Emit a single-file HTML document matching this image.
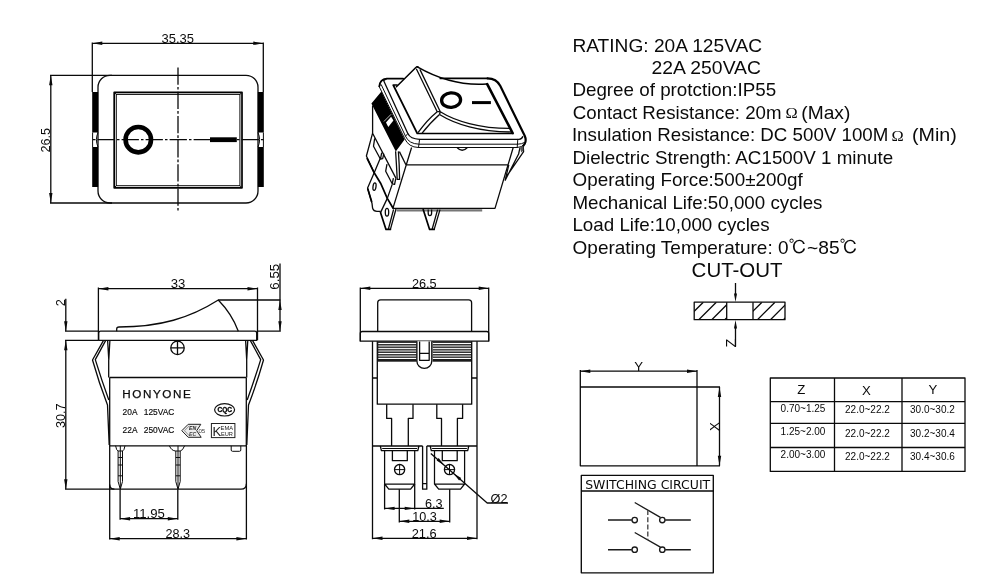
<!DOCTYPE html>
<html lang="en">
<head>
<meta charset="utf-8">
<title>Rocker switch drawing</title>
<style>
html,body{margin:0;padding:0;background:#fff;}
body{width:990px;height:588px;overflow:hidden;}
svg{display:block;will-change:transform;}
.l{fill:none;stroke:#0a0a0a;stroke-width:1.3;stroke-linecap:butt;stroke-linejoin:round;}
.t{fill:none;stroke:#0a0a0a;stroke-width:1;}
.k{fill:none;stroke:#000;stroke-width:1.7;stroke-linejoin:round;}
.b{fill:#000;stroke:none;}
.w{fill:#fff;stroke:none;}
.a{fill:#0a0a0a;stroke:none;}
text{font-family:"Liberation Sans",sans-serif;fill:#0a0a0a;}
.d{font-size:12.7px;}
.s{font-size:17.7px;}
.tb{font-size:10px;}
.th{font-size:13.2px;}
</style>
</head>
<body>
<svg width="990" height="588" viewBox="0 0 990 588">
<rect x="0" y="0" width="990" height="588" fill="#fff"/>

<!-- ================= TOP VIEW ================= -->
<g id="topview">
<!-- dimension 35.35 -->
<path class="l" d="M92.3,42.5V92 M263.3,42.5V92 M92.3,43.3H263.3"/>
<path class="a" d="M92.3,43.3l10,-1.7v3.4z M263.3,43.3l-10,-1.7v3.4z"/>
<text class="d" x="177.8" y="42.6" text-anchor="middle" textLength="32.5" lengthAdjust="spacingAndGlyphs">35.35</text>
<!-- dimension 26.5 -->
<path class="l" d="M50,75.3H112 M50,203H112 M50.8,75.3V203"/>
<path class="a" d="M50.8,75.3l-1.7,10h3.4z M50.8,203l-1.7,-10h3.4z"/>
<text class="d" transform="translate(49.6,140.2) rotate(-90)" text-anchor="middle" textLength="24.6" lengthAdjust="spacingAndGlyphs">26.5</text>
<!-- bezel -->
<rect class="l" x="98" y="75.3" width="160" height="127.7" rx="12" ry="12"/>
<!-- side pads -->
<rect class="b" x="92.2" y="92" width="5.9" height="40.5"/>
<rect class="b" x="92.2" y="147" width="5.9" height="40"/>
<rect class="b" x="257.9" y="92" width="5.9" height="40.5"/>
<rect class="b" x="257.9" y="147" width="5.9" height="40"/>
<path class="t" d="M92.6,132.5V147 M98,132.5q-3.2,7.2 0,14.5 M263.4,132.5V147 M258,132.5q3.2,7.2 0,14.5"/>
<!-- rocker -->
<rect class="k" x="114.2" y="92.3" width="127.8" height="95.5"/>
<rect class="t" x="116.3" y="94.4" width="123.6" height="91.3"/>
<path class="t" d="M114.2,92.3l2.1,2.1 M242,92.3l-2.1,2.1 M114.2,187.8l2.1,-2.1 M242,187.8l-2.1,-2.1"/>
<!-- centre lines -->
<path class="l" d="M178,67.5V211.7" stroke-dasharray="17.3 2.1 2.7 2.1"/>
<path class="l" d="M92,139.7H264" stroke-dasharray="2.5 2.1 17.3 2.1" stroke-dashoffset="-1"/>
<!-- symbols -->
<circle cx="138.3" cy="139.7" r="12.7" fill="none" stroke="#000" stroke-width="4.6"/>
<rect class="b" x="210" y="137.3" width="26.8" height="4.8"/>
</g>

<!-- ================= ISO VIEW ================= -->
<g id="iso" style="stroke-linecap:round">
<!-- black side pads -->
<path class="b" d="M381.4,91.4L371.4,103.6L395.8,151.4L404.6,139.4L385.5,100Z"/>
<path class="w" d="M386,122.5L391.1,116.8L393.4,120.4L388.3,127Z"/>
<path d="M384.2,121.2L390.8,114.6" stroke="#fff" stroke-width="0.7" fill="none"/>
<!-- bezel silhouette L1 (left + bottom + right) -->
<path class="t" d="M386.8,78.6Q379.6,79.4 379.2,86.6L404.8,138.8Q408.6,147.2 418.5,147.5H517Q522,147.2 523.6,145"/>
<!-- Lm -->
<path class="t" d="M379.4,85.6L381.2,84.6L405.5,136.2Q408.8,143.8 419,144.2H517.6Q522,144 523.8,142.8"/>
<!-- bezel top edge + right edge -->
<path class="k" d="M379.3,86.4Q379.8,79.4 386.8,78.6H403.2 M440.3,78.4H487.6"/>
<path class="k" style="stroke-width:2.2" d="M487.6,78.4Q496.4,78.6 500.2,85.8L524.7,135.7Q526.6,140 524.8,143.6L523.2,146"/>
<!-- L2 top-face edge -->
<path class="l" d="M386.4,78.8L383.6,80.6L407.8,133.6Q410.4,139.1 419.6,139.3H519.1Q522,139 522.9,136.2" style="stroke-width:1.3"/>
<path class="t" d="M405.5,136.2L407.8,133.6 M419.6,139.3L418.5,147.5 M517.8,139.3L517.2,147.5"/>
<!-- inner opening -->
<path class="k" d="M397,85H393.2L417.3,133.5H513"/>
<path class="k" style="stroke-width:2.6" d="M487.2,84.2L512.6,133"/>
<!-- rocker: back-left edge to peak -->
<path class="k" style="stroke-width:1.5" d="M396.4,86.8L416.1,67.2Q417,66.2 418.2,67.2"/>
<!-- ridge -->
<path class="l" d="M416.3,68.7L437.2,111.7 M419.9,69.4L440.3,111.7 M437.2,111.7H440.3L439.5,114.5"/>
<!-- steep face front edges -->
<path class="l" d="M437.2,111.7Q427,120 418,132.7 M439.5,114.5Q429,124 422.1,133.2"/>
<!-- rocker: back curve -->
<path class="k" style="stroke-width:1.5" d="M417.3,66.9C435,77 460,86 486.8,84"/>
<!-- rocker: front curves -->
<path class="l" d="M440.3,111.7C455,121 480,128.4 509.4,128.4"/>
<path class="l" d="M439.5,114.5C455,124.2 480,132 511.2,132"/>
<!-- symbols -->
<ellipse cx="451.1" cy="100.1" rx="9.5" ry="7.3" fill="none" stroke="#000" stroke-width="3.3" transform="rotate(-4 451.1 100.1)"/>
<path d="M472,102.6H490.9" fill="none" stroke="#000" stroke-width="3" stroke-linecap="butt"/>
<!-- body front -->
<path class="l" d="M411.6,147.5L392.9,208.4H495L513.2,147.5 M406,164.8H508.6"/>
<path d="M396.6,210.3H482.2" stroke="#777" stroke-width="2.2" fill="none" stroke-linecap="butt"/>
<path class="l" d="M457.2,147.8Q462.2,152.8 467.2,147.8"/>
<!-- left side of body / clip -->
<path class="l" d="M399.4,151.6L405.9,164.8"/>
<path class="l" d="M395.6,151.2Q396.6,166 397.2,179.4H399.6Q399.4,165 398.4,151.4"/>
<!-- right clip -->
<path class="l" d="M520,147.6L518.6,154L505.2,180.2L508.8,164.8 M523.2,146L523.6,151.6L506.6,176.4"/>
<path d="M520,147.6L523.2,146L523.4,150.6L521.2,152.6Z" fill="#555"/>
<!-- left terminals -->
<path class="l" d="M372.6,105.4V133.2L396,178.4 M372.6,133.2L366.4,156L374.2,172.8L380.6,157.6"/>
<path class="l" d="M374.7,138.4L373.5,146.2L380.5,159.2L382.7,158.6L383.8,153.6 M381.7,152.6L380.5,159.2"/>
<path class="l" d="M387,164.2L385.7,171.2L392.2,183.8L394.6,184.4L395.8,178.4 M393.4,178.2L392.2,183.8"/>
<path class="l" d="M374.2,172.8L367.6,188L372,203.4L372.6,208.2Q373.6,211.3 377,211.3H380.5"/>
<path class="k" d="M367.2,158.6L374.2,172.8L380.6,183.2L387.3,198.4L392.8,207.8"/>
<path class="k" d="M367.8,189L371.6,201.6"/>
<ellipse class="l" cx="374.5" cy="186.6" rx="1.5" ry="3.8" transform="rotate(8 374.5 186.6)"/>
<path class="l" d="M392.2,184.4L387.3,198.4L380.5,212.6"/>
<!-- front-left terminal blade -->
<path class="k" d="M380.5,212.6L386,229.4H390.4"/>
<path class="l" d="M396,209L390.4,229.4 M393.6,209.4L388.4,229"/>
<ellipse class="l" cx="387" cy="212.2" rx="1.7" ry="3.9"/>
<!-- second blade -->
<path class="k" d="M423.2,209.6L429.6,229.4H434.2"/>
<path class="l" d="M440,209.6L434.2,229.4 M437.6,209.6L432.2,229"/>
<path class="l" d="M428.2,209.6V213Q428.2,215.6 429.9,215.6Q431.6,215.6 431.6,213V209.6"/>
</g>

<!-- ================= FRONT VIEW ================= -->
<g id="front">
<!-- dim 33 -->
<path class="l" d="M98.4,287.6V340.3 M257.5,287.6V340.3 M98.4,288.7H257.5"/>
<path class="a" d="M98.4,288.7l10,-1.7v3.4z M257.5,288.7l-10,-1.7v3.4z"/>
<text class="d" x="178" y="288.3" text-anchor="middle" textLength="14.6" lengthAdjust="spacingAndGlyphs">33</text>
<!-- dim 2 -->
<path class="l" d="M65,331.2H98.7 M65,340.3H98.7 M65.8,298.7V331.2"/>
<path class="a" d="M65.8,331.2l-1.7,-10h3.4z"/>
<text class="d" transform="translate(65.2,302.8) rotate(-90)" text-anchor="middle">2</text>
<!-- dim 30.7 -->
<path class="l" d="M65.8,340.3V489.2 M65,489.2H241"/>
<path class="a" d="M65.8,340.3l-1.7,10h3.4z M65.8,489.2l-1.7,-10h3.4z"/>
<text class="d" transform="translate(65.2,415.8) rotate(-90)" text-anchor="middle" textLength="24.6" lengthAdjust="spacingAndGlyphs">30.7</text>
<!-- dim 6.55 -->
<path class="l" d="M218.3,300H280.8 M256.7,331.2H280.8 M280,263.5V331.2"/>
<path class="a" d="M280,300l-1.7,10h3.4z M280,331.2l-1.7,-10h3.4z"/>
<text class="d" transform="translate(279.4,276.7) rotate(-90)" text-anchor="middle" textLength="26" lengthAdjust="spacingAndGlyphs">6.55</text>
<!-- flange -->
<path class="l" d="M98.7,340.3V333.2Q98.7,331.2 100.7,331.2H254.7Q256.7,331.2 256.7,333.2V340.3Z"/>
<!-- rocker profile -->
<path class="l" d="M116.7,331.2V329Q116.7,327 119,327C160,327 190,318 218.3,300Q232,314 238.3,331.2"/>
<!-- screw symbol -->
<circle class="l" cx="177.5" cy="347.9" r="6.7"/>
<path class="l" d="M170.8,347.9H184.2 M177.5,341.2V354.6"/>
<!-- body -->
<path class="l" d="M107.6,340.3L108.8,360L109.9,340.3 M108.7,360V377.5 M109.7,377.5H246.3 M109.7,377.5V445.8H246.3V377.5"/>
<path class="l" d="M245.6,340.3L246.7,360L247.8,340.3 M246.7,360V377.5"/>
<!-- clips -->
<path class="l" d="M103.4,340.6L92.5,360Q99,383 107.5,405L109.2,445"/>
<path class="l" d="M105.6,340.6L95.3,359.6Q101.6,380 108.8,400"/>
<path class="l" d="M252.6,340.6L263.5,360Q257,383 248.5,405L246.8,445"/>
<path class="l" d="M250.4,340.6L260.7,359.6Q254.4,380 247.2,400"/>
<!-- labels -->
<text x="122.3" y="398" textLength="68.4" lengthAdjust="spacing" style="font-size:11.7px;stroke:#0a0a0a;stroke-width:0.25">HONYONE</text>
<text x="122.6" y="415.3" style="font-size:8.4px;stroke:#0a0a0a;stroke-width:0.15">20A</text>
<text x="143.8" y="415.3" style="font-size:8.4px;stroke:#0a0a0a;stroke-width:0.15">125VAC</text>
<text x="122.6" y="433.4" style="font-size:8.4px;stroke:#0a0a0a;stroke-width:0.15">22A</text>
<text x="143.8" y="433.4" style="font-size:8.4px;stroke:#0a0a0a;stroke-width:0.15">250VAC</text>
<!-- CQC mark -->
<ellipse cx="224.6" cy="409.8" rx="10" ry="6.2" fill="none" stroke="#111" stroke-width="1.2"/>
<text x="224.7" y="412.2" text-anchor="middle" textLength="14.6" lengthAdjust="spacingAndGlyphs" style="font-size:6.4px;font-weight:bold;fill:#000;stroke:#000;stroke-width:0.3">CQC</text>
<!-- KEMA mark -->
<rect x="211.4" y="423.5" width="23.5" height="14.1" fill="none" stroke="#222" stroke-width="1"/>
<text x="212.6" y="435.5" style="font-size:13px;fill:#222">K</text>
<text x="220.6" y="429.9" textLength="12.4" lengthAdjust="spacingAndGlyphs" style="font-size:5.4px;fill:#1a1a1a">EMA</text>
<text x="220.9" y="435.9" textLength="12" lengthAdjust="spacingAndGlyphs" style="font-size:5.4px;fill:#1a1a1a">EUR</text>
<!-- ENEC mark -->
<path d="M181.8,430.7L188.2,424.3H200.8L196.7,430.7L201.2,437.3H188.2Z" fill="#ececec" stroke="#222" stroke-width="1"/>
<path d="M184.5,430.7L189.3,425.8 M184.5,430.7L189.3,435.8" fill="none" stroke="#555" stroke-width="0.6"/>
<text x="189" y="430" style="font-size:5.2px;font-style:italic;font-weight:bold;fill:#222">EN</text>
<text x="189" y="435.8" style="font-size:5.2px;font-style:italic;font-weight:bold;fill:#444">EC</text>
<text x="198.4" y="432.9" style="font-size:6.2px;fill:#444">05</text>
<!-- terminals -->
<g id="pinA">
<path class="t" d="M115.6,445.8Q116.4,450.6 118.1,451V481.5L120.3,489.2L122.5,481.5V451Q124.2,450.6 125,445.8"/>
<path class="t" d="M120.3,445.8V489 M118.1,451H122.5 M118.1,457.5H122.5 M118.1,465H122.5 M118.1,475.8H122.5"/>
</g>
<g id="pinB">
<path class="t" d="M169.4,445.8Q171.4,450.8 175.8,451V481.5L178,489.2L180.2,481.5V451Q182.6,450.8 184.6,445.8"/>
<path class="t" d="M178,445.8V489 M175.8,451H180.2 M175.8,457.5H180.2 M175.8,465H180.2 M175.8,475.8H180.2"/>
</g>
<path class="t" d="M231.2,445.8V450Q231.2,451.3 232.5,451.3H239.5Q240.8,451.3 240.8,450V445.8"/>
<!-- bottom / width -->
<path class="l" d="M109.7,445.8V539.6 M246.4,445.8V539.6"/>
<path class="l" d="M109.7,484.5Q109.7,489.2 114.4,489.2 M241,489.2Q246.4,489.2 246.4,483.8"/>
<path class="l" d="M120.1,489.2V519.8 M177.8,489.2V519.8 M120.1,518.7H177.8 M109.7,538.7H246.4"/>
<path class="a" d="M120.1,518.7l10,-1.7v3.4z M177.8,518.7l-10,-1.7v3.4z M109.7,538.7l10,-1.7v3.4z M246.4,538.7l-10,-1.7v3.4z"/>
<text class="d" x="148.9" y="518.3" text-anchor="middle" textLength="32" lengthAdjust="spacingAndGlyphs">11.95</text>
<text class="d" x="177.8" y="538.2" text-anchor="middle" textLength="24.6" lengthAdjust="spacingAndGlyphs">28.3</text>
</g>

<!-- ================= SIDE VIEW ================= -->
<g id="side">
<!-- dim 26.5 -->
<path class="l" d="M360.3,287.4V341.2 M488.7,287.4V341.2 M360.3,288.3H488.7"/>
<path class="a" d="M360.3,288.3l10,-1.7v3.4z M488.7,288.3l-10,-1.7v3.4z"/>
<text class="d" x="424.3" y="288" text-anchor="middle" textLength="24.8" lengthAdjust="spacingAndGlyphs">26.5</text>
<!-- rocker -->
<path class="l" d="M377.7,331.5V302.7Q377.7,299.8 380.6,299.8H468.7Q471.6,299.8 471.6,302.7V331.5"/>
<!-- flange -->
<path class="l" d="M360.3,341.2V333.5Q360.3,331.5 362.3,331.5H486.7Q488.7,331.5 488.7,333.5V341.2Z" style="stroke-width:1.3"/>
<!-- ribs -->
<g id="ribs">
<rect x="377.8" y="341.4" width="38.9" height="20.3" fill="#1c1c1c"/>
<rect x="378.3" y="342.9" width="38.4" height="1.2" fill="#fff"/>
<rect x="378.3" y="348.1" width="38.4" height="1.1" fill="#fff"/>
<rect x="378.3" y="353" width="38.4" height="1.1" fill="#fff"/>
<rect x="378.3" y="357.9" width="38.4" height="1.1" fill="#fff"/>
<rect x="378.3" y="345" width="38.4" height="2.3" fill="#909090"/>
<rect x="378.3" y="350" width="38.4" height="2.2" fill="#909090"/>
<rect x="378.3" y="354.9" width="38.4" height="2.3" fill="#909090"/>
</g>
<use href="#ribs" transform="translate(849.3,0) scale(-1,1)"/>
<!-- centre latch -->
<path class="l" d="M416.9,341.2V361A7.45,7.45 0 0 0 431.8,361V341.2" fill="#fff" style="fill:#fff"/>
<path class="l" d="M419.6,341.4V360.3H429.2V341.4 M419.6,353.3H429.2"/>
<!-- body -->
<path class="l" d="M372.5,341.2V539.2 M477,341.2V539.2 M377.3,341.2V404.2H471.7V341.2 M372.5,378H377.3 M471.7,378H477"/>
<!-- upper terminals -->
<path class="l" d="M386.7,404.2V418.4H391.6V446 M413,404.2V418.4H408.3V446 M436.8,404.2V418.4H441.5V446 M462.6,404.2V418.4H457.4V446"/>
<path class="l" d="M372.5,446H422.6 M426.8,446H477"/>
<!-- centre slot -->
<path class="l" d="M422.6,446V489.2H426.8V446 M422.6,483.6H426.8"/>
<!-- blades -->
<g id="blade">
<path class="l" d="M380.3,446L381.4,450.6H417.8L418.9,446" style="stroke-width:1.3"/>
<path class="t" d="M382.2,448.5H417"/>
<path class="l" d="M384.6,450.6V484L388.8,489.2H410.6L414.7,484V450.6 M384.6,484H414.7" style="stroke-width:1.25"/>
<path class="l" d="M392.4,450.6V460.7H407.3V450.6"/>
<circle class="l" cx="399.6" cy="469.6" r="5.1"/>
<path class="t" d="M394.5,469.6H404.7 M399.6,464.5V474.7"/>
</g>
<use href="#blade" x="49.9" y="0"/>
<!-- leader Ø2 -->
<path class="l" d="M430.8,453.4L487.2,503H508"/>
<path class="a" d="M444.2,465.2l-7.6,-4.7l2.1,-2.4z M453.6,473.4l7.6,4.7l-2.1,2.4z"/>
<text class="d" x="490.6" y="502.5" textLength="17" lengthAdjust="spacingAndGlyphs">Ø2</text>
<!-- dims 6.3 / 10.3 / 21.6 -->
<path class="l" d="M384.6,484V509.4 M414.7,484V509.4 M384.6,508.4H443.8 M399.3,489.2V522.4 M449.7,489.2V522.4 M399.3,521.3H449.7 M372.5,538.3H477"/>
<path class="a" d="M384.6,508.4l10,-1.7v3.4z M414.7,508.4l-10,-1.7v3.4z M399.3,521.3l10,-1.7v3.4z M449.7,521.3l-10,-1.7v3.4z M372.5,538.3l10,-1.7v3.4z M477,538.3l-10,-1.7v3.4z"/>
<text class="d" x="433.8" y="507.8" text-anchor="middle" textLength="17.6" lengthAdjust="spacingAndGlyphs">6.3</text>
<text class="d" x="424.6" y="520.8" text-anchor="middle" textLength="24.6" lengthAdjust="spacingAndGlyphs">10.3</text>
<text class="d" x="424.2" y="538" text-anchor="middle" textLength="25" lengthAdjust="spacingAndGlyphs">21.6</text>
</g>

<!-- ================= SPEC TEXT ================= -->
<g id="spec" class="s">
<text x="572.4" y="51.5" textLength="189.7" lengthAdjust="spacingAndGlyphs">RATING: 20A 125VAC</text>
<text x="651.6" y="74.0" textLength="109.4" lengthAdjust="spacingAndGlyphs">22A 250VAC</text>
<text x="572.4" y="96.4" textLength="203.7" lengthAdjust="spacingAndGlyphs">Degree of protction:IP55</text>
<text x="572.8" y="118.8" textLength="208.7" lengthAdjust="spacingAndGlyphs">Contact Resistance: 20m</text>
<text x="785.5" y="118.1" textLength="12.2" lengthAdjust="spacingAndGlyphs" style="font-family:'Liberation Serif',serif;font-size:15.4px">Ω</text>
<text x="801.3" y="118.8" textLength="49.0" lengthAdjust="spacingAndGlyphs">(Max)</text>
<text x="571.9" y="141.3" textLength="316.5" lengthAdjust="spacingAndGlyphs">Insulation Resistance: DC 500V 100M</text>
<text x="891.5" y="140.5" textLength="12.2" lengthAdjust="spacingAndGlyphs" style="font-family:'Liberation Serif',serif;font-size:15.4px">Ω</text>
<text x="912.0" y="141.3" textLength="44.8" lengthAdjust="spacingAndGlyphs">(Min)</text>
<text x="572.4" y="163.7" textLength="320.7" lengthAdjust="spacingAndGlyphs">Dielectric Strength: AC1500V 1 minute</text>
<text x="572.6" y="186.2" textLength="230.1" lengthAdjust="spacingAndGlyphs">Operating Force:500±200gf</text>
<text x="572.4" y="208.7" textLength="250.1" lengthAdjust="spacingAndGlyphs">Mechanical Life:50,000 cycles</text>
<text x="572.4" y="231.1" textLength="197.3" lengthAdjust="spacingAndGlyphs">Load Life:10,000 cycles</text>
<text x="572.6" y="253.6" textLength="215.9" lengthAdjust="spacingAndGlyphs">Operating Temperature: 0</text>
<text x="788.6" y="253.9" style="font-family:'IPAGothic','Noto Serif CJK SC',serif;font-size:18.6px">℃</text>
<text x="807.1" y="253.6" textLength="32.6" lengthAdjust="spacingAndGlyphs">~85</text>
<text x="839.4" y="253.9" style="font-family:'IPAGothic','Noto Serif CJK SC',serif;font-size:18.6px">℃</text>
</g>

<!-- ================= CUT-OUT ================= -->
<g id="cutout">
<text x="691.6" y="277.3" textLength="91" lengthAdjust="spacingAndGlyphs" style="font-size:19.4px">CUT-OUT</text>
<!-- plate section -->
<clipPath id="cpL"><rect x="694.2" y="302.2" width="32.5" height="17.5"/></clipPath>
<clipPath id="cpR"><rect x="753" y="302.2" width="32" height="17.5"/></clipPath>
<g clip-path="url(#cpL)"><path class="l" d="M685.8,319.7l17.5,-17.5 M698.8,319.7l17.5,-17.5 M711.8,319.7l17.5,-17.5 M724.8,319.7l17.5,-17.5"/></g>
<g clip-path="url(#cpR)"><path class="l" d="M744.5,319.7l17.5,-17.5 M757.5,319.7l17.5,-17.5 M770.5,319.7l17.5,-17.5 M783.5,319.7l17.5,-17.5"/></g>
<rect class="l" x="694.2" y="302.2" width="90.8" height="17.5" style="stroke-width:1.3"/>
<path class="l" d="M726.7,302.2V319.7 M753,302.2V319.7" style="stroke-width:1.3"/>
<path class="l" d="M735.5,283V296 M735.5,326V346.6"/>
<path class="a" d="M735.5,302l-1.5,-8.5h3z M735.5,319.9l-1.5,8.5h3z"/>
<text transform="translate(736.2,347.6) rotate(-90)" style="font-size:14.6px">Z</text>
<!-- cut-out rectangle -->
<path class="l" d="M580.3,370V465.8H720 M697,370V465.8 M580.3,387H720 M580.3,371.2H697 M719.5,387V465.8"/>
<path class="a" d="M580.3,371.2l10,-1.7v3.4z M697,371.2l-10,-1.7v3.4z M719.5,387l-1.7,10h3.4z M719.5,465.8l-1.7,-10h3.4z"/>
<text x="638.6" y="370.9" text-anchor="middle" style="font-size:13.2px">Y</text>
<text transform="translate(719.2,426.6) rotate(-90)" text-anchor="middle" style="font-size:13.2px">X</text>
</g>

<!-- ================= TABLE ================= -->
<g id="table">
<path class="l" style="stroke-width:1.3" d="M770.3,378H965V471.4H770.3Z M834.5,378V471.4 M902,378V471.4 M770.3,401.7H965 M770.3,423.3H965 M770.3,447.5H965"/>
<text class="th" x="801.3" y="394.4" text-anchor="middle">Z</text>
<text class="th" x="866.3" y="395.1" text-anchor="middle">X</text>
<text class="th" x="933" y="393.9" text-anchor="middle">Y</text>
<text class="tb" x="803" y="411.8" text-anchor="middle">0.70~1.25</text>
<text class="tb" x="803" y="434.6" text-anchor="middle">1.25~2.00</text>
<text class="tb" x="803" y="458.4" text-anchor="middle">2.00~3.00</text>
<text class="tb" x="867.4" y="413.4" text-anchor="middle">22.0~22.2</text>
<text class="tb" x="867.4" y="436.8" text-anchor="middle">22.0~22.2</text>
<text class="tb" x="867.4" y="460.1" text-anchor="middle">22.0~22.2</text>
<text class="tb" x="932.4" y="413.2" text-anchor="middle">30.0~30.2</text>
<text class="tb" x="932.4" y="436.8" text-anchor="middle">30.2~30.4</text>
<text class="tb" x="932.4" y="460.1" text-anchor="middle">30.4~30.6</text>
</g>

<!-- ================= SWITCHING CIRCUIT ================= -->
<g id="circuit">
<path class="l" style="stroke-width:1.35" d="M581.3,475.4H713.3V572.8H581.3Z M581.3,491H713.3"/>
<text x="585.2" y="488.7" textLength="125" lengthAdjust="spacingAndGlyphs" style="font-family:'DejaVu Sans','Liberation Sans',sans-serif;font-size:13px">SWITCHING CIRCUIT</text>
<g style="stroke:#1a1a1a;stroke-width:1.35;fill:none">
<path d="M608,520H631.8 M665.2,520H690.8 M634.7,502.5L660.4,517.4"/>
<circle cx="634.7" cy="520" r="2.7" fill="#fff"/><circle cx="662.3" cy="520" r="2.7" fill="#fff"/>
<path d="M608,549.7H631.8 M665.2,549.7H690.8 M634.7,532.5L660.4,547.2"/>
<circle cx="634.7" cy="549.7" r="2.7" fill="#fff"/><circle cx="662.3" cy="549.7" r="2.7" fill="#fff"/>
<path d="M647.8,510V539.8" stroke="#444" stroke-dasharray="5 2.2"/>
</g>
</g>

</svg>
</body>
</html>
